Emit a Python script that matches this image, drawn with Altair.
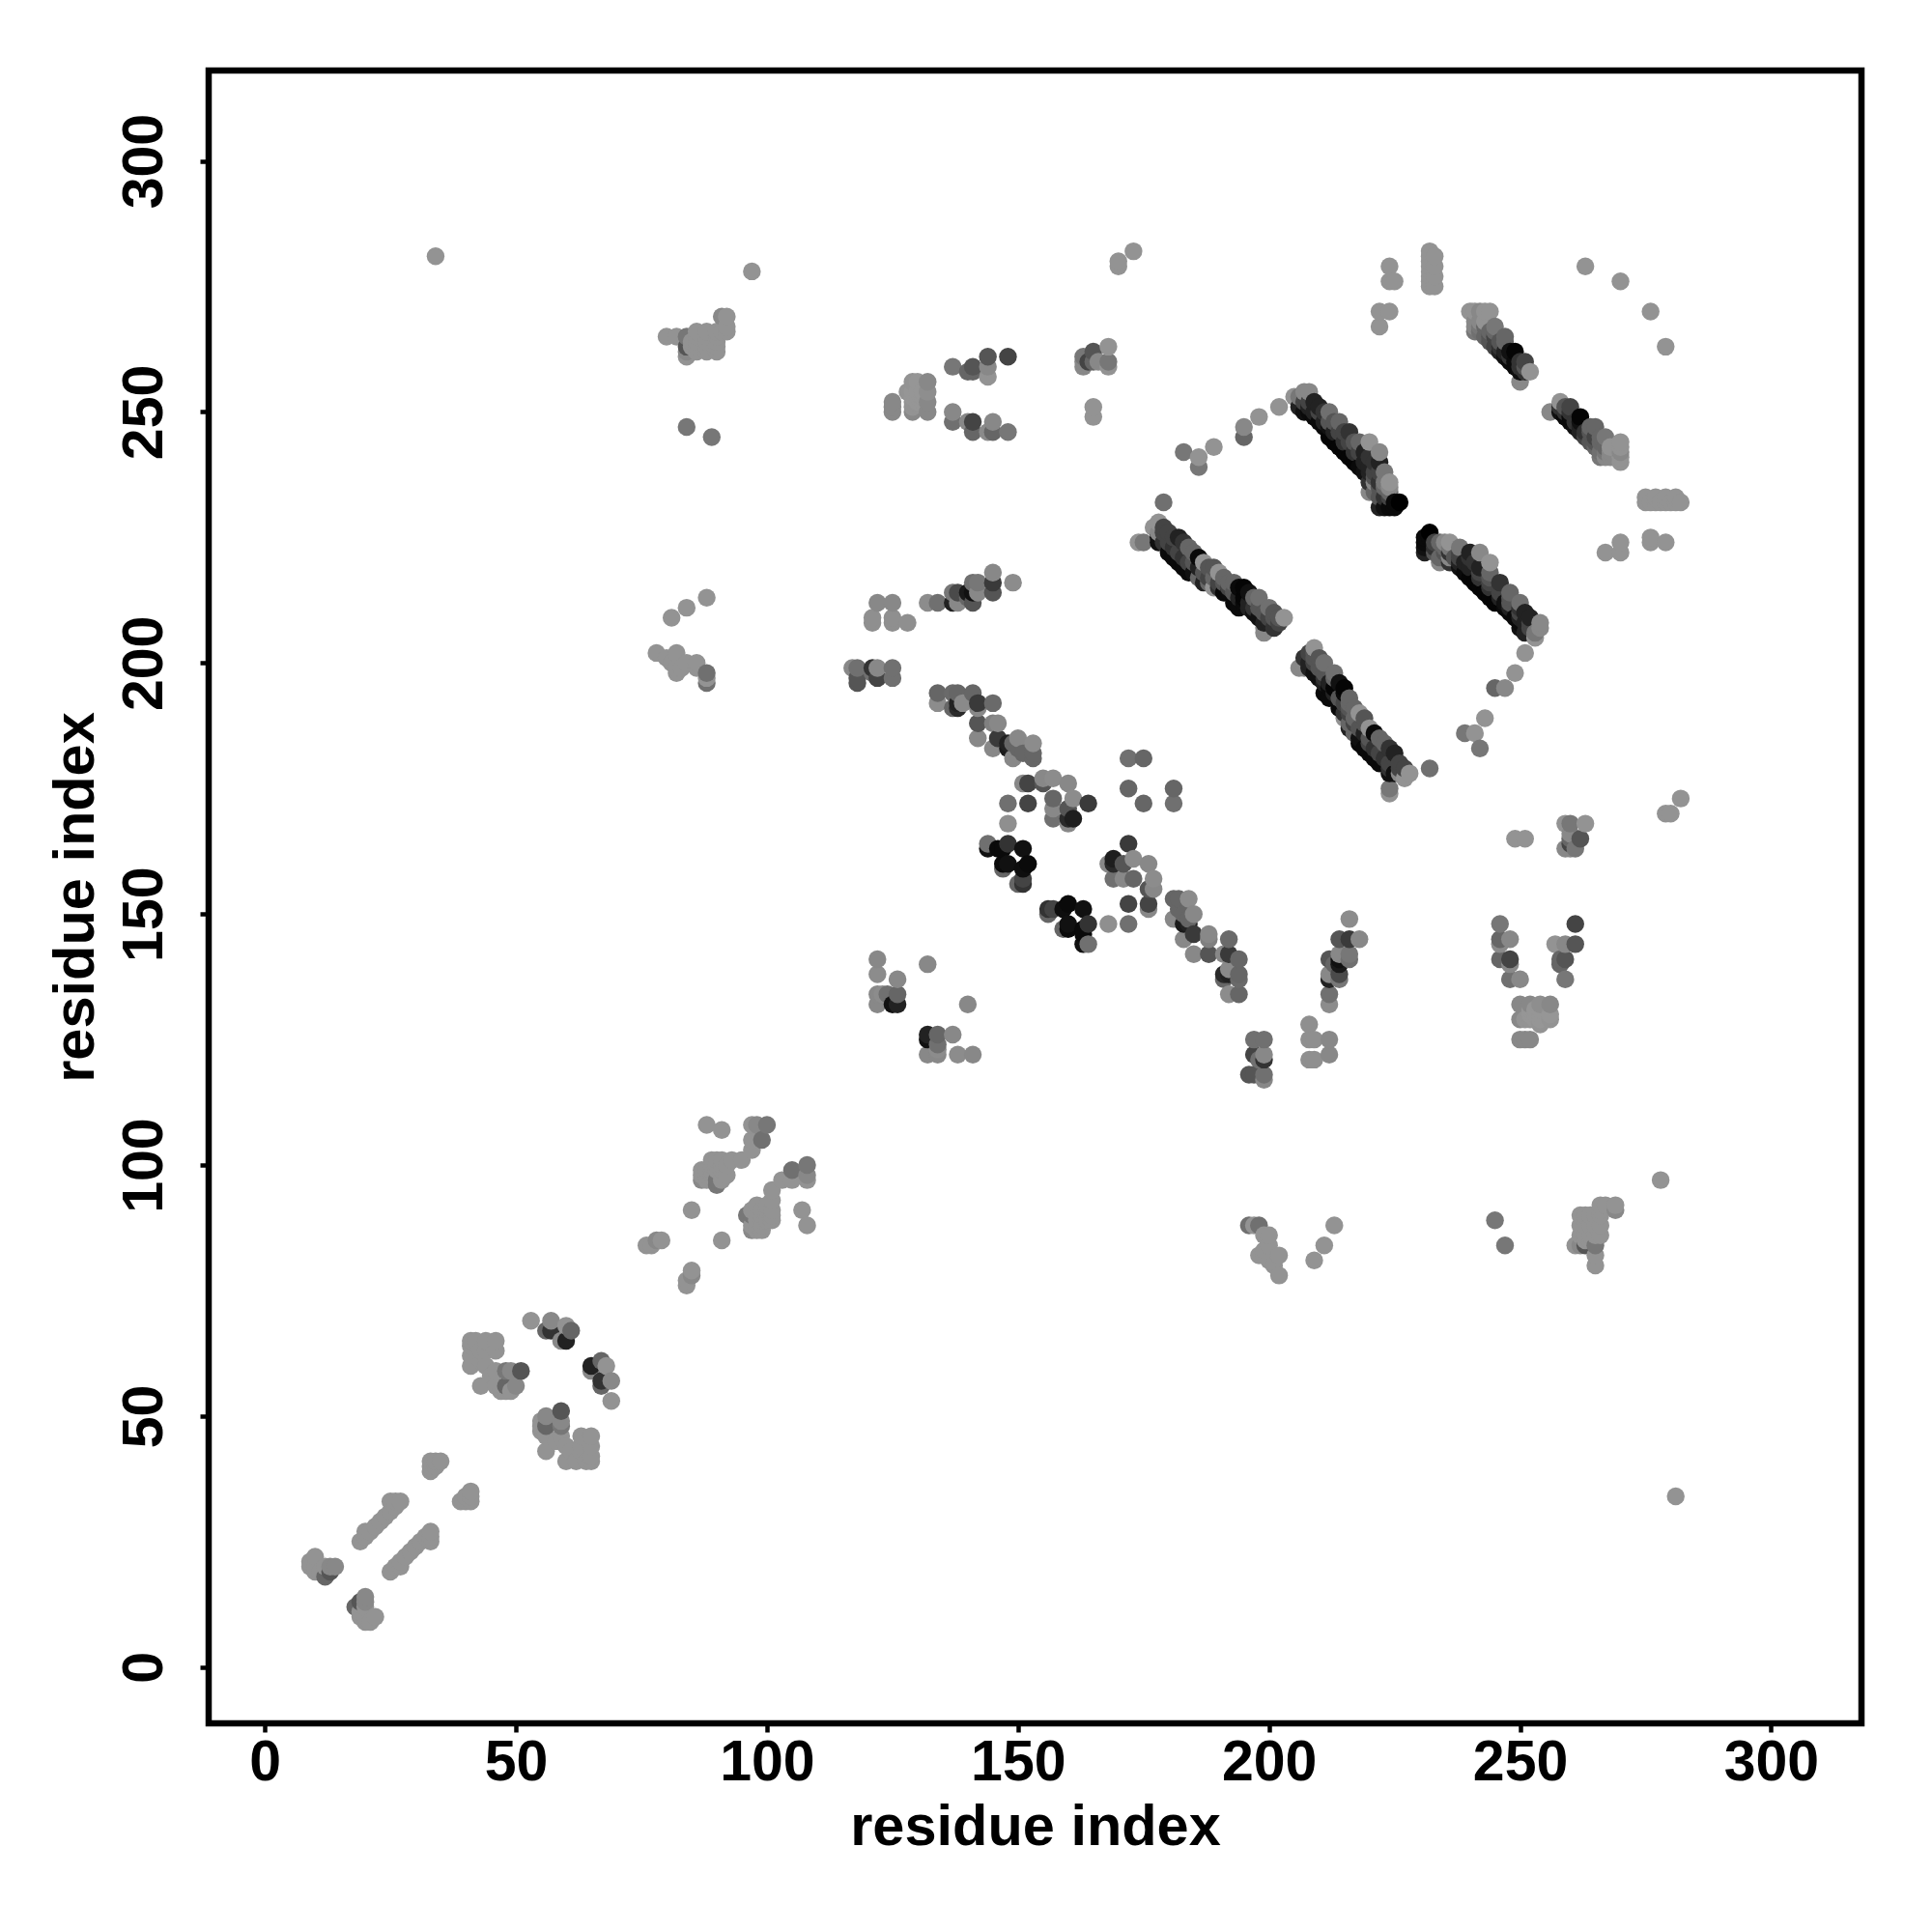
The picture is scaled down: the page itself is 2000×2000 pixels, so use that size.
import altair as alt
import pandas as pd

# Contact map: every entry is (residue i, residue j, grey level 0-255).
# The map is symmetric, so each contact is listed once and also drawn mirrored.
G = 0x93
low_a = [(10,22,G),(9,20,G),(9,21,G),(10,19,G),(10,20,G),(11,19,G),(12,18,0x66),(12,20,G),(13,19,0x55),(13,20,0x88),(14,20,0x88)]
low_b = [(19,25,G),(20,26,G),(20,27,G),(21,27,G),(22,28,G),(23,29,G),(24,30,G),(25,31,G),(25,33,G),(26,32,G),(26,33,G),(27,33,G),
         (33,39,G),(33,40,G),(33,41,G),(34,40,G),(34,41,G),(35,41,G)]
low_c = [(41,65,G),(42,65,G),(44,65,G),(46,65,G),(41,64,G),(41,62,G),(41,60,G),(43,63,G),(44,63,G),(46,63,G),(44,60,G),(43,61,G),(45,58,G),
         (46,59,G),(48,59,0x77),(49,59,0x88),(51,59,0x55),(43,56,G),(46,56,G),(47,55,G),(48,55,G),(48,56,0x66),(49,55,G),(50,56,0x88)]
low_d = [(53,69,G),(57,69,0x88),(56,67,0x66),(57,67,0x33),(60,68,G),(59,65,0x88),(60,65,0x22),(61,67,0x66)]
low_e = [(76,84,G),(77,84,G),(78,85,0x88),(79,85,G),(85,91,G),(88,108,G),(91,107,G),(97,108,G),(98,108,0x88),(100,108,0x77),(99,105,0x70),(97,105,G),(97,103,G),(95,101,G),(93,101,G),
         (87,97,0x88),(87,98,G),(87,99,G),(88,97,G),(88,98,G),(88,99,G),(89,98,G),(89,99,G),(89,100,G),(89,101,G),(90,96,0x77),(90,97,0x77),(90,99,G),(90,100,G),(90,101,G),(91,97,G),(91,99,G),(91,100,G),(91,101,G),(92,98,G),(92,100,G)]
far = [(34,281,G),(97,278,G),(84,247,0x77),(89,245,0x77),(170,279,G),(170,280,G),(173,282,G),(224,279,G),(224,276,G),(225,276,G),(222,270,G),(224,270,G),(222,267,G),
       (263,279,G),(270,276,G)]
col_232 = [(232,275,G),(232,276,G),(232,277,G),(232,278,G),(232,279,G),(232,280,G),(232,281,G),(232,282,G),(233,275,G),(233,277,G),(233,279,G),(233,281,G)]
upper_a = [(80,265,G),(82,265,G),(84,265,0x77),(84,261,G),(84,262,0x88),(84,263,0x55),(85,263,G),(85,264,G),(86,262,G),(86,263,G),(86,264,G),(86,265,G),(86,266,G),(88,262,G),(88,263,G),(88,264,G),(88,265,G),(88,266,G),(90,262,G),(90,263,G),(90,264,G),(90,265,G),(90,266,G),(91,269,0x88),(92,269,G),(91,266,G),(92,266,G),(92,267,G)]
upper_b = [(81,209,G),(84,211,G),(88,213,G),(78,202,G),(82,202,G),(80,201,G),(81,200,G),(82,199,G),(82,198,G),(83,199,G),(84,200,G),(86,199,G),(86,200,G),(88,196,0x70),(88,197,G),(88,198,0x70)]
ring_a = [(122,141,0x88),(122,138,0x8c),(126,137,0x88),(122,134,0x88),(126,134,0x66),(122,132,0x88),(125,132,0x11),(123,134,0x8c),(126,132,0x22),(132,140,0x88),(124,134,0x70)]
ring_b = [(197,125,0x70),(199,125,0x70),(197,122,0x44),(199,122,0x88),(199,121,0x33),(198,121,0x70),(196,118,0x55),(197,118,0x55),(199,118,0x70),(199,117,0x88)]
ring_c = [(212,122,0x88),(212,125,0x88),(208,128,0x8f),(208,125,0x8f),(209,125,0x8f),(208,121,0x8f),(209,121,0x8f)]
ring_d = [(212,132,0x8c),(212,134,0x70),(212,137,0x22),(212,138,0x88),(214,137,0x77),(214,138,0x4a),(213,140,0x66),(214,140,0x1a),(212,141,0x55),(214,141,0x11),(216,141,0x70),(214,142,0x88),(216,142,0x77),(214,145,0x55),(216,145,0x3a),(218,145,0x88),(216,149,0x8c)]
ring_e = [(246,148,0x77),(246,145,0x66),(246,144,0x8a),(248,145,0x88),(246,141,0x66),(248,141,0x44),(248,140,0x88),(248,137,0x70),(250,137,0x88)]
ring_f = [(261,148,0x44),(259,144,0x88),(261,144,0x55),(259,141,0x55),(258,140,0x66),(258,141,0x66),(259,137,0x77),(144,257,G),(144,259,0x44),(144,261,0x66),(148,261,0x55)]
ring_g = [(125,252,0x88),(125,251,0x88),(125,250,0x88),(129,250,0x88),(129,251,G),(132,250,0x88),(132,252,0x88),(129,252,G),(130,252,0x96),(130,253,0x96),(129,253,0x96),(128,254,G),(129,254,0x96),(130,254,0x96),(131,252,0x96),(131,253,0x96),(131,254,0x96),(132,254,0x8e),(129,256,G),(130,256,0x96),(132,256,0x88)]
ring_h = [(163,259,0x88),(163,260,0x88),(163,261,0x77),(164,260,0x44),(165,260,0x66),(165,262,0x55),(166,260,0x88),(168,259,G),(168,260,0x77),(168,263,G),(165,251,G),(165,249,G),(249,165,G),(251,165,G)]
diag_a = [(134,194,0x66),(134,192,0x8c),(137,194,0x6a),(138,194,0x66),(138,191,0x2a),(138,192,0x22),(139,192,0x8a),(141,194,0x66),(142,192,0x3a),(142,191,0x88),(145,192,0x6a),(142,188,0x55),(145,188,0x80),(146,188,0x88),(142,185,0x88),(145,183,0x88),(146,185,0x3a),(150,185,0x88),(149,181,0x88),(148,183,0x1a),(148,184,0x22),(149,184,0x66),(153,184,0x8c),(153,181,0x66),(153,182,0x66),(150,183,0x66),(151,182,0x66),(137,191,0x66)]
diag_b = [(151,176,0x88),(152,176,0x44),(155,176,0x55),(155,177,0x88),(157,177,0x8c),(160,176,0x88),(148,172,0x70),(152,172,0x44),(164,172,0x3a),(157,173,0x66),(157,171,0x88),(157,169,0x70),(161,173,0x8c),(160,171,0x55),(161,169,0x1e),(160,169,0x2a),(160,168,0x88),(148,168,0x8f),(172,181,0x70),(175,181,0x66),(172,175,0x66)]
diag_c = [(144,164,0x70),(144,163,0x11),(146,163,0x0a),(147,163,0x0a),(148,164,0x33),(148,160,0x11),(147,159,0x66),(151,163,0x11),(152,160,0x0a),(151,159,0x0e),(151,157,0x44),(150,156,0x66),(151,156,0x33),(147,160,0x0a)]
band_a = [(202,251,G),(198,249,G),(195,247,0x88),(195,245,0x66),(189,243,G),(186,241,G),(186,239,0x77),(183,242,0x77),(179,232,0x70),
          (205,253,G),(206,253,0x77),(207,254,0x88),(208,254,0x88),(206,251,0x22),(207,250,0x11),(208,250,0x0a),(208,252,0x44),(209,252,0x22),(209,249,0x0a),(210,251,0x22),(210,248,0x0a),(211,250,0x33),(211,247,0x0a),(212,250,0x70),(212,245,0x05),(212,247,0x11),(213,248,0x55),(213,244,0x05),(214,248,0x66),(214,243,0x05),(215,246,0x44),(215,242,0x05),(216,246,0x33),(216,241,0x05),(217,244,0x55),(217,240,0x05),(218,244,0x66),(218,239,0x0a),(219,242,0x22),(219,238,0x11),(220,244,G),(220,241,0x33),(220,238,0x22),(220,236,0x33),(220,234,0x88),(221,240,0x33),(221,237,0x55),(221,236,0x88),(221,234,0x66),(222,242,0x88),(222,240,0x22),(222,236,0x33),(222,233,0x55),(222,231,0x22),(223,238,0x77),(223,233,0x33),(223,231,0x11),(224,236,G),(224,235,0x88),(224,233,0x44),(224,231,0x0a),(225,232,0x0a),(225,231,0x0a),(226,232,0x00)]
band_a_mid = [(207,252,0x44),(208,251,0x22),(209,250,0x22),(210,250,0x44),(211,248,0x22),(212,248,0x55),(213,246,0x22),(214,246,0x44),(215,244,0x33),(216,244,0x44),(217,242,0x33),(218,242,0x44),(219,240,0x22),(220,239,0x22),(221,238,0x44),(222,238,0x44),(222,235,0x55),(223,235,0x66),(223,236,0x77),(224,234,0x66)]
band_b = [(240,270,G),(241,270,G),(242,270,0x88),(243,270,G),(244,270,G),(241,268,0x88),(241,267,0x88),(242,268,0x88),(243,268,G),(242,266,0x70),(243,265,0x66),(244,264,0x55),(244,266,0x66),(245,263,0x44),(245,266,0x66),(245,267,0x77),(246,262,0x22),(246,264,0x55),(247,261,0x11),(247,264,0x66),(247,265,0x66),(248,260,0x0a),(248,261,0x33),(249,259,0x0a),(249,262,0x05),(250,258,0x11),(250,259,0x33),(250,256,0x88),(251,260,0x44),(252,258,G)]
band_b_mid = [(243,267,0x66),(244,265,0x55),(245,265,0x44),(246,263,0x33),(247,262,0x22),(248,262,0x11),(249,260,0x0a),(250,260,0x33),(242,267,0x77),(241,266,0x77),(251,258,0x33),(251,259,0x55)]
band_d = [(174,224,G),(175,224,0x77),(177,227,G),(178,228,G),(178,226,0x88),(178,225,0x11),(178,224,0x11),(179,227,0x44),(179,226,0x44),(180,226,0x44),(180,222,0x0a),(181,225,0x44),(181,221,0x0a),(182,225,0x22),(182,220,0x0a),(183,224,0x33),(183,219,0x0a),(184,223,0x66),(184,218,0x0a),(185,222,0x66),(185,218,0x11),(186,221,0x0a),(186,219,0x22),(186,217,0x66),(187,220,G),(187,216,0x22),(188,219,0x55),(188,216,0x66),(189,219,0x55),(189,215,G),(190,218,G),(190,215,0x33),(191,217,0x66),(191,214,0x0a),(192,216,0x66),(192,214,0x0a),(193,216,0x66),(193,212,0x0a),(194,215,0x0a),(194,211,0x0a),(195,215,0x05),(195,213,0x05),(195,212,0x0a),(196,214,0x11),(196,211,0x22),(197,213,0x66),(197,210,0x11),(198,213,0x70),(198,209,0x11),(199,208,0x22),(199,207,0x88),(199,206,0x88),(200,211,0x70),(200,208,0x22),(201,210,0x55),(201,207,0x33),(202,209,0x55),(202,208,0x44),(203,209,G)]
band_d_mid = [(179,224,0x33),(180,224,0x44),(181,223,0x33),(182,222,0x44),(183,221,0x33),(184,220,0x44),(185,220,0x55),(187,218,0x55),(188,217,0x44),(189,217,0x66),(190,216,0x44),(191,216,0x55),(192,215,0x44),(193,214,0x55),(194,213,0x22),(196,212,0x22),(197,211,0x33),(198,211,0x55),(199,210,0x55),(200,209,0x44),(201,209,0x55)]

groups = [low_a, low_b, low_c, low_d, low_e, far, col_232, upper_a, upper_b, ring_a, ring_b, ring_c, ring_d, ring_e, ring_f, ring_g, ring_h, diag_a, diag_b, diag_c, band_a, band_a_mid, band_b, band_b_mid, band_d, band_d_mid]
x_ticks = [0, 50, 100, 150, 200, 250, 300]
axis_title = "residue index"

rows = []
for group in groups:
    for i, j, g in group:
        colour = f"#{g:02x}{g:02x}{g:02x}"
        rows.append({"x": i, "y": j, "c": colour})
        rows.append({"x": j, "y": i, "c": colour})
df = pd.DataFrame(rows).drop_duplicates(["x", "y"]).sort_values(["x", "y"]).reset_index(drop=True)

FONT = "Liberation Sans"
common = dict(values=x_ticks, grid=False, domain=False, tickColor="black", tickWidth=4.5, tickSize=9,
              labelFont=FONT, labelFontWeight="bold", labelFontSize=59, labelColor="black",
              titleFont=FONT, titleFontWeight="bold", titleFontSize=59.5, titleColor="black")

chart = (
    alt.Chart(df)
    .mark_circle(size=340, opacity=1)
    .encode(
        x=alt.X("x:Q", title=axis_title, scale=alt.Scale(domain=[-11.2, 318], nice=False, zero=False),
                axis=alt.Axis(labelPadding=2, titlePadding=8, labelOverlap=False, labelFlush=False, **common)),
        y=alt.Y("y:Q", title=axis_title, scale=alt.Scale(domain=[-11.2, 318], nice=False, zero=False),
                axis=alt.Axis(labelAngle=270, labelAlign="center", labelBaseline="bottom", labelPadding=28, titlePadding=12,
                              labelOverlap=False, labelFlush=False, **common)),
        color=alt.Color("c:N", scale=None, legend=None),
    )
    .properties(width=1711, height=1711, background="white",
                padding={"left": 208, "top": 65, "right": 60, "bottom": 200},
                autosize=alt.AutoSizeParams(type="none"))
    .configure_view(stroke="black", strokeWidth=6.5, fill="white")
)
chart.save("out.html", embed_options={"renderer": "svg", "actions": False})
